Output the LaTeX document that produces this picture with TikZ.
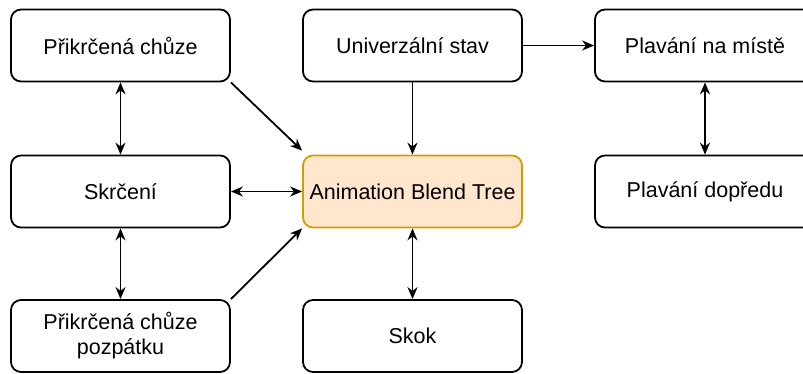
\documentclass[tikz,border=0pt]{standalone}
\usepackage{fontspec}
\setmainfont{Liberation Sans}
\usetikzlibrary{arrows.meta}
\definecolor{abtfill}{HTML}{FFE6CC}
\definecolor{abtdraw}{HTML}{D79B00}
\begin{document}
\begin{tikzpicture}[x=1pt,y=-1pt,
  box/.style={draw=black,line width=1.8pt,rounded corners=10pt,minimum width=219pt,minimum height=72pt,align=center,font=\fontsize{21.5}{25}\selectfont,inner sep=2pt,fill=white},
  hot/.style={box,fill=abtfill,draw=abtdraw},
  conn/.style={line width=1.8pt,-{Stealth[length=12pt,width=10pt]}},
  dconn/.style={line width=1.8pt,{Stealth[length=12pt,width=10pt]}-{Stealth[length=12pt,width=10pt]}}]
\useasboundingbox (0,0) rectangle (803,374);
\node[box] (pc) at (120.5,45.5) {Přikrčená chůze};
\node[box] (us) at (412.5,45.5) {Univerzální stav};
\node[box,minimum width=220pt] (pm) at (705,45.5) {Plavání na místě};
\node[box] (sk) at (120.5,191.5) {Skrčení};
\node[hot] (abt) at (412.5,191.5) {Animation Blend Tree};
\node[box,minimum width=220pt] (pd) at (705,191.5) {Plavání dopředu};
\node[box] (pb) at (120.5,336) {Přikrčená chůze\\pozpátku};
\node[box] (skok) at (412.5,336) {Skok};
\draw[conn] (pc.south east) -- ([yshift=4pt]abt.north west);
\draw[dconn] (pc) -- (sk);
\draw[dconn] (sk) -- (abt);
\draw[dconn] (sk) -- (pb);
\draw[conn] (pb.north east) -- (abt.south west);
\draw[conn] (us) -- (abt);
\draw[conn] (us) -- (pm);
\draw[dconn] (pm) -- (pd);
\draw[dconn] (abt) -- (skok);
\end{tikzpicture}
\end{document}
